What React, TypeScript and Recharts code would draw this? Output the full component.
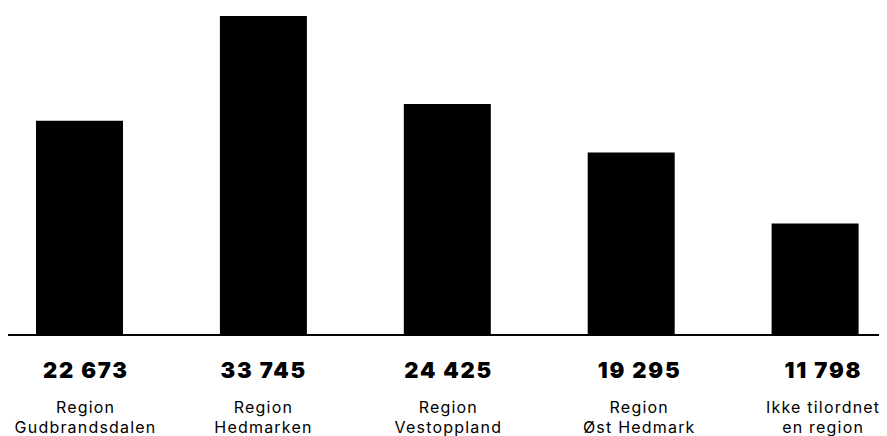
import React from 'react';
import { BarChart, Bar, XAxis, YAxis } from 'recharts';

const line1 = ['Region', 'Region', 'Region', 'Region', 'Ikke tilordnet'];
const line2 = ['Gudbrandsdalen', 'Hedmarken', 'Vestoppland', 'Øst Hedmark', 'en region'];
const values = [22673, 33745, 24425, 19295, 11798];

// small horizontal nudges of the label blocks relative to bar centres
const labelShift = [5, -1, 0, 7, 7];

const fmt = (v: number) => String(v).replace(/\B(?=(\d{3})+(?!\d))/g, ' ');

const data = values.map((v, i) => ({ key: String(i), value: v }));

const labelStyle = { fontFamily: 'Inter', fontSize: 16, letterSpacing: 1.2 };

const Tick = (props: any) => {
  const { x, y, payload } = props;
  const i = Number(payload.value);
  return (
    <g transform={`translate(${x + labelShift[i]},${y})`}>
      <text x={0.9} y={43} textAnchor="middle" fill="#000" style={{ fontFamily: 'Inter', fontWeight: 900, fontSize: 22, letterSpacing: 1.8 }}>
        {fmt(values[i])}
      </text>
      <text x={0.6} y={78} textAnchor="middle" fill="#000" style={labelStyle}>
        {line1[i]}
      </text>
      <text x={0.6} y={97.5} textAnchor="middle" fill="#000" style={labelStyle}>
        {line2[i]}
      </text>
    </g>
  );
};

export default function App() {
  return (
    <BarChart width={879} height={428} data={data} margin={{ top: 8, right: 6, bottom: 0, left: 0 }}>
      <XAxis
        dataKey="key"
        height={101}
        tickLine={false}
        tickSize={0}
        tickMargin={0}
        axisLine={{ stroke: '#000', strokeWidth: 2 }}
        padding={{ left: -20, right: -26.5 }}
        tick={<Tick />}
        interval={0}
      />
      <YAxis hide domain={[0, 'dataMax']} />
      <Bar dataKey="value" fill="#000" barSize={87} isAnimationActive={false} />
    </BarChart>
  );
}
